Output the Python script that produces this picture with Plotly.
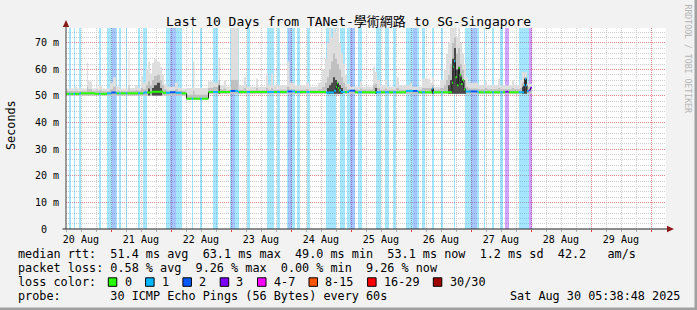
import plotly.graph_objects as go
from datetime import datetime, timedelta

# ---------------- data (hours after the window start) ----------------
start = datetime(2025, 8, 20, 5, 38, 48)
end = datetime(2025, 8, 30, 5, 38, 48)
data_end_h = 186.4

loss_labels = ["0", "1", "2", "3", "4-7", "8-15", "16-29", "30/30"]
loss_colors = ["#26ff00", "#00b8ff", "#0059ff", "#7e00ff", "#ff00ff", "#ff5500", "#ff0000", "#a10000"]

bar_start_h = [1.2, 3.0, 5.2, 13.2, 16.4, 18.2, 19.8, 21.2, 23.9, 28.8, 30.8, 40.0, 41.6, 43.8,
               50.3, 53.6, 58.8, 65.6, 66.0, 67.6, 72.3, 80.4, 84.4, 88.3, 88.8, 90.4, 92.4, 96.2,
               104.0, 109.6, 112.4, 113.6, 116.8, 124.0, 127.6, 130.8, 136.0, 138.8, 140.4, 142.4,
               146.4, 150.1, 155.1, 159.7, 161.8, 164.4, 167.1, 170.4, 173.7, 175.7, 181.1, 185.1]
bar_end_h = [1.8, 3.6, 6.0, 13.8, 18.2, 19.8, 20.4, 21.8, 24.5, 29.6, 32.4, 41.6, 43.8, 46.2,
             50.9, 54.3, 60.8, 66.0, 67.6, 69.2, 73.6, 83.2, 85.6, 88.8, 90.4, 91.6, 93.6, 97.4,
             108.0, 111.6, 113.6, 115.6, 118.4, 126.0, 129.2, 132.0, 138.8, 140.4, 141.1, 143.6,
             147.2, 150.7, 155.7, 161.8, 164.4, 165.1, 167.5, 171.1, 174.7, 177.1, 185.1, 186.4]
bar_level = [1, 1, 1, 1, 1, 2, 1, 1, 1, 1, 1, 1, 2, 1,
             1, 1, 1, 1, 2, 1, 1, 1, 1, 1, 2, 1, 1, 1,
             1, 1, 1, 2, 1, 1, 1, 1, 1, 2, 1, 1,
             1, 1, 1, 1, 2, 1, 1, 1, 1, 3, 1, 3]

med_h = [0.0, 5.6, 11.6, 16.4, 18.2, 20.0, 31.2, 34.4, 38.8, 41.6, 44.0, 46.4, 48.2, 57.0,
         65.6, 68.8, 88.4, 91.6, 104.0, 107.2, 108.0, 108.4, 108.8, 109.2, 110.0, 113.2, 115.6,
         136.0, 140.8, 146.4, 146.8, 154.4, 154.8, 155.2, 155.8, 156.4, 157.0, 157.4, 158.0,
         158.6, 159.2, 159.8, 164.8, 175.8, 177.0, 183.2, 183.6, 184.0, 184.4, 185.2, 185.8]
med_ms = [50.8, 51.0, 50.8, 51.0, 51.3, 51.0, 51.3, 51.6, 51.2, 51.4, 51.2, 51.0, 49.0, 51.5,
          51.9, 51.5, 51.7, 51.5, 51.3, 52.0, 53.5, 54.8, 53.0, 52.2, 51.5, 52.0, 51.4,
          51.9, 51.4, 52.8, 51.4, 55.0, 61.0, 63.1, 57.0, 54.0, 60.5, 58.0, 54.5,
          56.0, 52.5, 51.7, 51.4, 51.6, 51.4, 54.0, 56.5, 54.0, 51.8, 52.2, 53.1]

smoke_h = [0.0, 3.6, 4.4, 8.4, 8.8, 10.4, 12.2, 12.6, 13.2, 14.4, 17.6, 18.8, 20.0, 21.6, 25.0,
           25.4, 27.6, 28.8, 30.0, 30.8, 32.0, 32.8, 33.6, 34.4, 35.2, 36.4, 37.6, 38.4, 39.2,
           40.4, 43.6, 44.8, 46.4, 48.0, 50.8, 51.4, 56.8, 58.8, 61.0, 61.6, 63.2, 64.0, 66.0,
           69.0, 71.2, 72.0, 76.0, 76.8, 80.0, 80.8, 82.0, 82.8, 88.4, 89.4, 91.6, 96.0, 97.2,
           100.8, 102.4, 103.6, 104.4, 105.2, 106.0, 106.8, 107.6, 108.4, 109.2, 110.0, 110.8,
           111.6, 112.4, 113.6, 117.6, 118.4, 122.8, 123.6, 124.4, 125.6, 127.6, 128.4, 132.0,
           133.2, 137.6, 138.4, 142.4, 145.6, 146.4, 147.2, 149.6, 151.2, 152.0, 152.8, 153.6,
           154.4, 155.2, 156.0, 156.8, 157.6, 158.4, 159.2, 160.0, 160.8, 164.8, 167.6, 168.4,
           172.8, 173.6, 178.4, 179.2, 181.6, 182.4, 183.2, 184.4, 185.2]
smoke_lo = [50.2] * 33 + [48.5] * 3 + [50.8] * 78
smoke_light = [52.8, 53.5, 52.8, 62.5, 55.5, 52.8, 58.0, 52.8, 54.0, 52.8, 55.0, 57.0, 53.5, 52.8, 67.0,
               53.0, 54.0, 53.0, 57.5, 55.0, 60.0, 63.0, 58.5, 62.5, 64.0, 63.0, 61.0, 58.0, 54.5,
               53.5, 55.0, 53.0, 52.8, 53.0, 63.0, 53.0, 55.5, 55.0, 64.5, 54.0, 56.0, 53.5, 75.6,
               54.0, 57.0, 53.5, 56.5, 53.5, 58.5, 54.0, 58.5, 54.0, 63.0, 55.0, 54.0, 55.0, 53.5,
               55.0, 60.0, 64.0, 70.0, 75.6, 72.0, 75.6, 74.0, 75.6, 70.0, 66.0, 62.0,
               58.0, 54.5, 53.5, 55.5, 53.5, 61.0, 59.0, 56.0, 54.0, 56.0, 53.5, 57.0,
               54.0, 55.0, 53.5, 56.5, 55.0, 57.0, 53.5, 56.0, 60.0, 66.0, 70.0, 75.6,
               75.6, 75.6, 72.0, 75.6, 70.0, 66.0, 62.0, 57.0, 55.0, 54.0, 56.0, 54.0,
               56.5, 54.0, 56.0, 54.0, 56.0, 59.0, 59.0, 55.0, 54.5]
smoke_mid = [51.8, 52.0, 51.8, 53.5, 52.5, 51.8, 52.5, 51.8, 52.2, 51.8, 52.5, 53.5, 52.0, 51.8, 54.0,
             52.0, 52.2, 52.0, 53.0, 52.5, 54.0, 55.5, 54.0, 56.0, 57.5, 58.0, 56.0, 54.0, 52.5,
             52.0, 52.5, 52.0, 51.8, 50.5, 52.0, 50.5, 53.0, 53.5, 56.0, 52.5, 52.8, 52.2, 56.0,
             52.3, 53.0, 52.2, 53.0, 52.2, 53.0, 52.3, 53.0, 52.3, 53.5, 52.5, 52.3, 52.5, 52.2,
             52.5, 53.5, 55.0, 57.0, 60.0, 63.0, 66.0, 64.0, 62.0, 60.0, 57.0, 55.0,
             53.5, 52.5, 52.3, 52.8, 52.3, 54.0, 54.5, 53.0, 52.3, 52.8, 52.3, 53.0,
             52.3, 52.5, 52.2, 53.0, 52.8, 54.0, 52.3, 53.0, 54.0, 56.0, 58.0, 62.0,
             70.0, 72.0, 66.0, 68.0, 62.0, 60.0, 56.0, 53.5, 52.8, 52.5, 53.0, 52.5,
             53.0, 52.5, 53.0, 52.5, 53.0, 55.0, 57.0, 53.5, 53.5]
N = None
smoke_dark = [N, N, N, N, N, N, N, N, N, N, N, N, N, N, N,
              N, N, N, N, N, N, 52.8, N, 53.0, 54.0, 55.0, 53.0, N, N,
              N, N, N, N, N, N, N, N, N, 54.0, N, N, N, N,
              N, N, N, N, N, N, N, N, N, N, N, N, N, N,
              N, N, N, 53.0, 54.0, 55.0, 57.0, 56.0, 55.0, 54.0, 53.0, N,
              N, N, N, N, N, N, 53.0, N, N, N, N, N,
              N, N, N, N, N, 52.8, N, N, N, N, 54.0, 56.0,
              64.0, 68.0, 60.0, 61.0, 57.0, 55.0, 53.0, N, N, N, N, N,
              N, N, N, N, N, 53.5, 56.5, N, N]

y_ticks = [0, 10, 20, 30, 40, 50, 60, 70]
y_labels = ["0\u00a0\u00a0", "10 m", "20 m", "30 m", "40 m", "50 m", "60 m", "70 m"]
day_labels = ["20 Aug", "21 Aug", "22 Aug", "23 Aug", "24 Aug", "25 Aug", "26 Aug", "27 Aug", "28 Aug", "29 Aug"]

title_text = "Last 10 Days from TANet-學術網路 to SG-Singapore"
legend_lines = [
    "median rtt:  51.4 ms avg  63.1 ms max  49.0 ms min  53.1 ms now  1.2 ms sd  42.2   am/s",
    "packet loss: 0.58 % avg  9.26 % max  0.00 % min  9.26 % now",
    "loss color:",
    "probe:       30 ICMP Echo Pings (56 Bytes) every 60s",
]
stamp_text = "Sat Aug 30 05:38:48 2025"

# ---------------- layout constants ----------------
W, H = 697, 310
L, R, T_, B = 66, 31, 28, 81
PW, PH = W - L - R, H - T_ - B
Y_TOP = 75.56
MONO = "DejaVu Sans Mono, Noto Sans CJK TC, monospace"


def T(h):
    return start + timedelta(hours=h)


def px(x):
    return (x - L) / PW


def py(y):
    return (H - B - y) / PH


def rgba(hexc, a):
    hexc = hexc.lstrip("#")
    r, g, b = int(hexc[0:2], 16), int(hexc[2:4], 16), int(hexc[4:6], 16)
    return f"rgba({r},{g},{b},{a})"


fig = go.Figure()

# loss bars in the background
fig.add_trace(go.Bar(
    x=[T((s + e) / 2) for s, e in zip(bar_start_h, bar_end_h)],
    y=[Y_TOP] * len(bar_start_h),
    width=[(e - s) * 3600000 for s, e in zip(bar_start_h, bar_end_h)],
    marker=dict(color=[rgba(loss_colors[l], 0.35) for l in bar_level], line=dict(width=0)),
    hoverinfo="skip", showlegend=False,
))

# smoke
sx = [T(h) for h in smoke_h] + [T(data_end_h)]
lo = smoke_lo + [smoke_lo[-1]]
dark = [d if d is not None else l for d, l in zip(smoke_dark, smoke_lo)]
for hi, col in [(smoke_light, "#dedede"), (smoke_mid, "#c0c0c0"), (dark, "#4a4a4a")]:
    fig.add_trace(go.Scatter(x=sx, y=lo, mode="lines", line=dict(width=0, shape="hv"),
                             hoverinfo="skip", showlegend=False))
    fig.add_trace(go.Scatter(x=sx, y=hi + [hi[-1]], mode="lines", line=dict(width=0, shape="hv"),
                             fill="tonexty", fillcolor=col, hoverinfo="skip", showlegend=False))


# median line coloured by loss
def med_at(t):
    v = med_ms[0]
    for h, val in zip(med_h, med_ms):
        if h <= t + 1e-9:
            v = val
        else:
            break
    return v


def lvl_at(t):
    for s, e, l in zip(bar_start_h, bar_end_h, bar_level):
        if s - 1e-9 <= t < e - 1e-9:
            return l
    return 0


bounds = sorted(set([h for h in med_h + bar_start_h + bar_end_h if h <= data_end_h] + [data_end_h]))
pts = {l: ([], []) for l in range(8)}
cx, cy = [], []
prev_v = None
for t0, t1 in zip(bounds[:-1], bounds[1:]):
    v, l = med_at(t0), lvl_at(t0)
    xs, ys = pts[l]
    xs += [T(t0), T(t1), None]
    ys += [v, v, None]
    if prev_v is not None and prev_v != v:
        cx += [T(t0), T(t0), None]
        cy += [prev_v, v, None]
    prev_v = v

fig.add_trace(go.Scatter(x=cx, y=cy, mode="lines", line=dict(color="#1e1e1e", width=1),
                         hoverinfo="skip", showlegend=False))
for l in range(8):
    xs, ys = pts[l]
    if xs:
        fig.add_trace(go.Scatter(x=xs, y=ys, mode="lines", line=dict(color=loss_colors[l], width=2),
                                 connectgaps=False, hoverinfo="skip", showlegend=False))

# invisible trace for the label axis
fig.add_trace(go.Scatter(x=[start], y=[0], xaxis="x2", mode="markers", marker=dict(opacity=0),
                         hoverinfo="skip", showlegend=False))

midnights = [datetime(2025, 8, 21) + timedelta(days=i) for i in range(10)]
noons = [datetime(2025, 8, 20, 12) + timedelta(days=i) for i in range(10)]

grid_dash = "1px,1px"
fig.update_layout(
    width=W, height=H, margin=dict(l=L, r=R, t=T_, b=B),
    paper_bgcolor="#f2f2f2", plot_bgcolor="#ffffff",
    barmode="overlay", bargap=0,
    font=dict(family=MONO, size=10, color="#000000"),
    xaxis=dict(type="date", range=[start, end], tickmode="array", tickvals=midnights,
               showticklabels=False, showgrid=True, gridcolor="#e48c8c", griddash=grid_dash,
               gridwidth=1, ticks="outside", ticklen=2, tickcolor="#e04040", zeroline=False,
               showline=False,
               minor=dict(tick0="2025-08-20", dtick=6 * 3600000, showgrid=True, gridcolor="#cfcfcf",
                          griddash=grid_dash, ticks="outside", ticklen=2, tickcolor="#b0b0b0")),
    xaxis2=dict(type="date", range=[start, end], overlaying="x", anchor="y", side="bottom",
                tickmode="array", tickvals=noons, ticktext=day_labels, showgrid=False,
                zeroline=False, showline=False, ticks="", ticklabelstandoff=3, ticklabelshift=-1,
                tickfont=dict(family=MONO, size=10, color="#000000")),
    yaxis=dict(range=[0, Y_TOP], tickmode="array", tickvals=y_ticks, ticktext=y_labels,
               showgrid=True, gridcolor="#e48c8c", griddash=grid_dash, zeroline=False,
               showline=False, ticks="", ticklabelstandoff=6,
               tickfont=dict(family=MONO, size=10, color="#000000"),
               minor=dict(dtick=2, showgrid=True, gridcolor="#cfcfcf", griddash=grid_dash)),
)

shapes = []
# axes
shapes.append(dict(type="line", xref="paper", yref="paper", x0=px(66), x1=px(66), y0=py(229), y1=py(24),
                   line=dict(color="#404040", width=1)))
shapes.append(dict(type="line", xref="paper", yref="paper", x0=px(62.5), x1=px(668), y0=py(229), y1=py(229),
                   line=dict(color="#202020", width=1)))
shapes.append(dict(type="path", xref="paper", yref="paper",
                   path=f"M {px(66)},{py(20)} L {px(62.8)},{py(27)} L {px(69.2)},{py(27)} Z",
                   fillcolor="#8b1a1a", line=dict(width=0)))
shapes.append(dict(type="path", xref="paper", yref="paper",
                   path=f"M {px(674)},{py(229)} L {px(667)},{py(225.8)} L {px(667)},{py(232.2)} Z",
                   fillcolor="#8b1a1a", line=dict(width=0)))
# frame
shapes.append(dict(type="rect", xref="paper", yref="paper", x0=px(694.5), x1=px(697), y0=py(0), y1=py(310),
                   fillcolor="#a0a0a0", line=dict(width=0)))
shapes.append(dict(type="rect", xref="paper", yref="paper", x0=px(0), x1=px(697), y0=py(307.5), y1=py(310),
                   fillcolor="#a0a0a0", line=dict(width=0)))

annotations = []
annotations.append(dict(text=title_text, xref="paper", yref="paper", x=px(348), y=py(21),
                        xanchor="center", yanchor="middle", showarrow=False,
                        font=dict(family=MONO, size=13, color="#000000")))
annotations.append(dict(text="Seconds", xref="paper", yref="paper", x=px(11), y=py(125),
                        xanchor="center", yanchor="middle", textangle=-90, showarrow=False,
                        font=dict(family=MONO, size=11.8, color="#000000")))
annotations.append(dict(text="RRDTOOL / TOBI OETIKER", xref="paper", yref="paper", x=px(687.5), y=py(59),
                        xanchor="center", yanchor="middle", textangle=90, showarrow=False,
                        font=dict(family=MONO, size=8.2, color="#b4b4b4")))

line_y = [254.3, 268.3, 281.7, 296.0]
for txt, yy in zip(legend_lines, line_y):
    annotations.append(dict(text=txt.replace(" ", "\u00a0"), xref="paper", yref="paper", x=px(16), y=py(yy),
                            xanchor="left", yanchor="middle", showarrow=False,
                            font=dict(family=MONO, size=11.8, color="#000000")))
annotations.append(dict(text=stamp_text.replace(" ", "\u00a0"), xref="paper", yref="paper", x=px(682),
                        y=py(296.0), xanchor="right", yanchor="middle", showarrow=False,
                        font=dict(family=MONO, size=11.8, color="#000000")))

# loss colour legend boxes
cw = 7.1
bx = 108.3
for lab, col in zip(loss_labels, loss_colors):
    shapes.append(dict(type="rect", xref="paper", yref="paper", x0=px(bx), x1=px(bx + 8.5),
                       y0=py(286.3), y1=py(277.8), fillcolor=col, line=dict(color="#000000", width=1)))
    annotations.append(dict(text=lab, xref="paper", yref="paper", x=px(bx + 14.2), y=py(281.7),
                            xanchor="left", yanchor="middle", showarrow=False,
                            font=dict(family=MONO, size=11.8, color="#000000")))
    bx += 30.2 + cw * len(lab)

fig.update_layout(shapes=shapes, annotations=annotations)
fig.write_html("out.html")
